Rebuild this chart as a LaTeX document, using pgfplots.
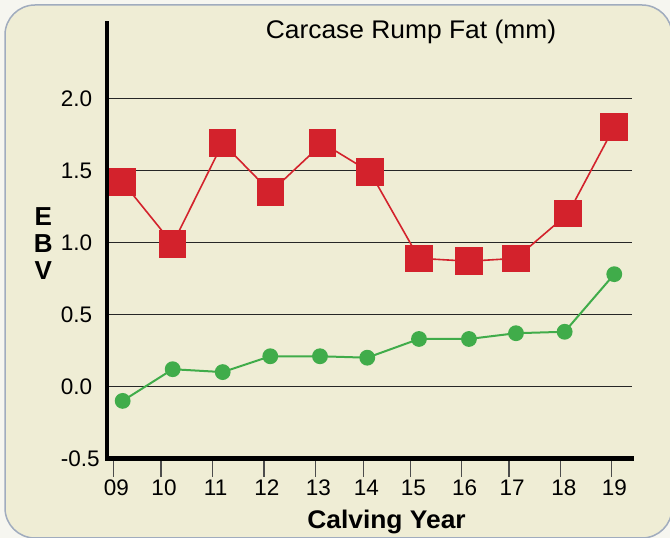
\documentclass[border=0pt]{standalone}
\usepackage{pgfplots}
\pgfplotsset{compat=1.18}
\usepackage{fontspec}
\setmainfont{Liberation Sans}
\newfontfamily\widefont{Liberation Sans}[FakeStretch=1.035]
\definecolor{bg}{RGB}{239,237,213}
\definecolor{framec}{RGB}{160,172,190}
\definecolor{outbg}{RGB}{246,246,240}
\definecolor{cred}{RGB}{211,34,44}
\definecolor{cgreen}{RGB}{64,172,74}
\newcommand{\yl}[1]{\makebox[38.8pt][l]{#1}}
\begin{document}
\begin{tikzpicture}[x=1pt,y=1pt]
\path[use as bounding box] (0,0) rectangle (670,538);
\fill[outbg] (0,0) rectangle (670,538);
\begin{scope}
\clip (0,0) rectangle (670,538);
\filldraw[fill=bg, draw=framec, line width=1.5pt, rounded corners=30pt] (5,0) rectangle (672,533);
\end{scope}
\begin{axis}[
  at={(106.8pt,79.5pt)}, anchor=south west,
  x=49.87pt, y=144pt,
  xmin=-0.13, xmax=10.40, ymin=-0.5, ymax=2.52,
  axis x line*=bottom, axis y line*=left,
  axis line style={line width=4.5pt, line cap=rect, -},
  ytick={-0.5,0,0.5,1,1.5,2},
  yticklabels={\yl{-0.5},\yl{0.0},\yl{0.5},\yl{1.0},\yl{1.5},\yl{2.0}},
  ymajorgrids,
  major grid style={black!85, line width=0.9pt},
  ytick style={draw=none},
  yticklabel style={anchor=east, inner sep=0pt, xshift=11pt},
  xtick={0,0.957,1.993,3.022,4.051,5.014,5.956,6.987,7.936,8.974,9.99},
  xticklabels={09,10,11,12,13,14,15,16,17,18,19},
  tick align=outside, major tick length=18pt,
  xtick style={black!70, line width=1.2pt},
  xticklabel style={xshift=3pt},
  ticklabel style={font=\fontsize{22.5}{24}\selectfont},
  clip=false,
]
\addplot[cred, line width=1.6pt, mark=square*, mark size=13pt, mark options={solid, fill=cred, draw=none}] coordinates {
(0.188,1.42) (1.191,0.99) (2.194,1.69) (3.156,1.35) (4.199,1.69) (5.147,1.49) (6.130,0.89) (7.132,0.87) (8.075,0.89) (9.118,1.20) (10.040,1.80)
};
\addplot[cgreen, line width=2pt, mark=*, mark size=6.9pt, mark options={solid, fill=cgreen, draw=none}] coordinates {
(0.188,-0.10) (1.191,0.12) (2.194,0.10) (3.148,0.21) (4.145,0.21) (5.093,0.20) (6.130,0.33) (7.132,0.33) (8.075,0.37) (9.051,0.38) (10.046,0.78)
};
\end{axis}
\node[font=\widefont\fontsize{25.5}{25.5}\selectfont, anchor=base] at (411,499.3) {Carcase Rump Fat (mm)};
\node[font=\fontsize{26}{27}\selectfont\bfseries, align=center, inner sep=0pt] at (43.3,294) {E\\B\\V};
\node[font=\widefont\fontsize{25.5}{25.5}\selectfont\bfseries, anchor=base] at (386.5,9) {Calving Year};
\end{tikzpicture}
\end{document}
